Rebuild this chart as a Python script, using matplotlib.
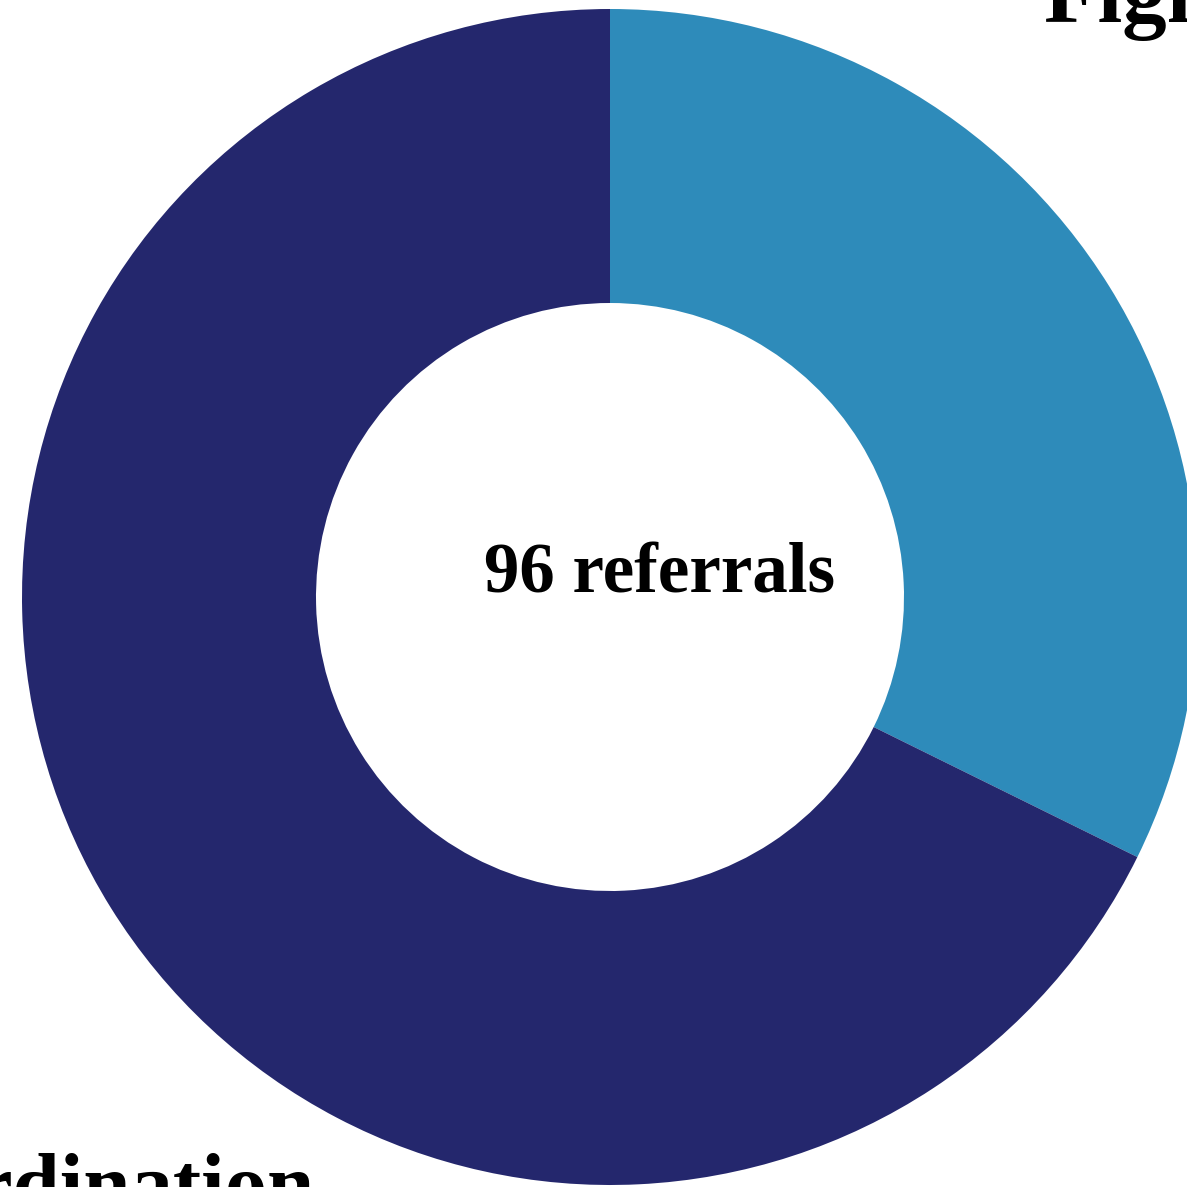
import matplotlib
matplotlib.use("Agg")
import matplotlib.pyplot as plt

# referral breakdown
categories = ["Fighting", "Coordination"]
counts = [31, 65]
colors = ["#2E8BBA", "#24276D"]
total_label = f"{sum(counts)} referrals"

W = H = 1187
plt.rcParams["font.family"] = ["Liberation Serif", "DejaVu Serif"]

fig = plt.figure(figsize=(W / 100, H / 100), dpi=100)

# axes sized so the pie (radius 1) lands where the reference ring is
cx, cy, r_out, r_in = 610, 597, 588, 294
ax = fig.add_axes([(cx - r_out) / W, (H - cy - r_out) / H, 2 * r_out / W, 2 * r_out / H])
ax.pie(counts, colors=colors, startangle=90, counterclock=False, radius=1,
       wedgeprops=dict(width=1 - r_in / r_out, edgecolor="none"))
ax.set_xlim(-1, 1)
ax.set_ylim(-1, 1)
ax.set_aspect("equal")
ax.axis("off")

# centre text
fig.text(660 / W, (H - 592) / H, total_label, ha="center", va="baseline",
         fontsize=51, fontweight="bold", color="black")

# category labels (mostly outside the canvas in the reference)
fig.text(1043 / W, (H - 22) / H, categories[0], ha="left", va="baseline",
         fontsize=64, fontweight="bold", color="black")
fig.text(315 / W, (H - 1212) / H, categories[1], ha="right", va="baseline",
         fontsize=61, fontweight="bold", color="black")

fig.savefig("out.png", dpi=100)
